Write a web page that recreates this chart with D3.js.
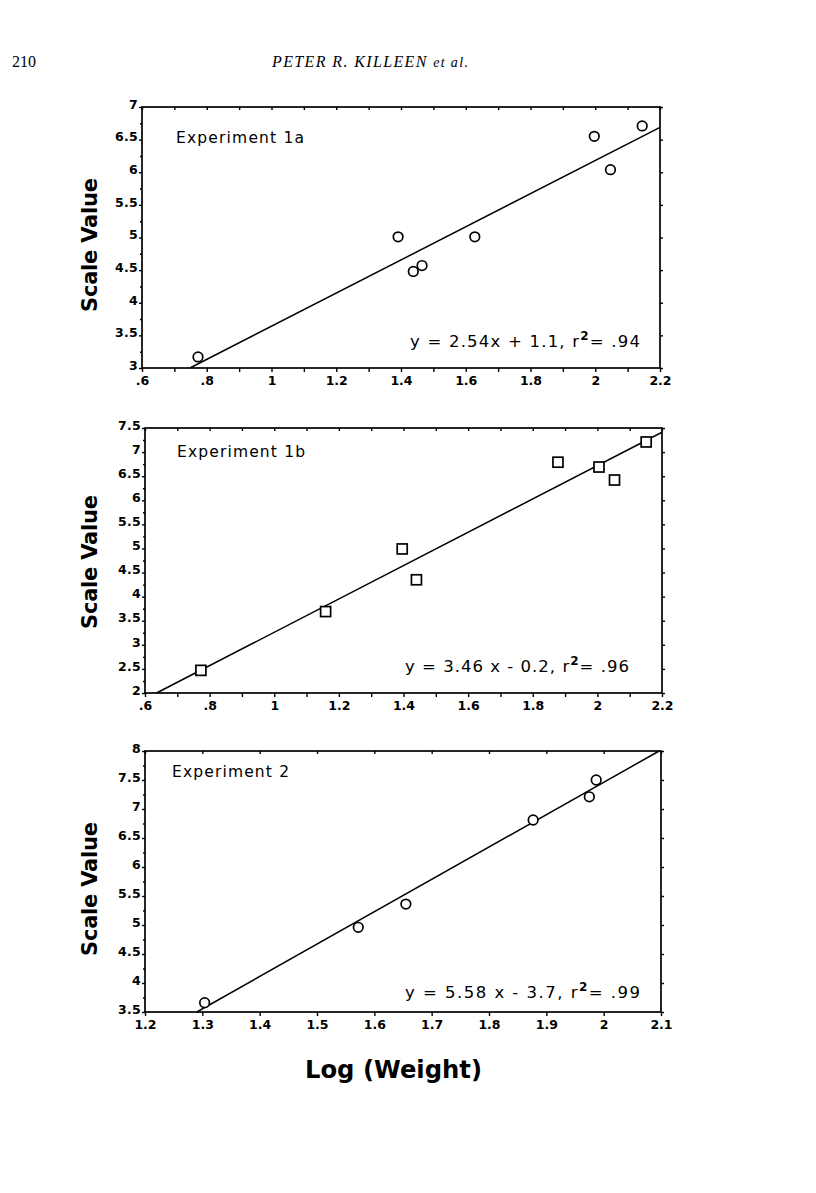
<!DOCTYPE html>
<html><head><meta charset="utf-8">
<script src="https://cdn.jsdelivr.net/npm/d3@7"></script>
<style>body{margin:0;background:#fff}</style>
</head><body><svg id="c" width="816" height="1193"></svg>
<script>
// ---------- data ----------
const exp1aLogWeight = [0.773, 1.391, 1.438, 1.465, 1.628, 1.997, 2.047, 2.145];
const exp1aScale     = [3.17, 5.01, 4.48, 4.57, 5.01, 6.55, 6.04, 6.71];
const exp1bLogWeight = [0.773, 1.159, 1.396, 1.440, 1.878, 2.005, 2.053, 2.151];
const exp1bScale     = [2.47, 3.69, 4.99, 4.35, 6.79, 6.69, 6.42, 7.21];
const exp2LogWeight  = [1.304, 1.572, 1.655, 1.877, 1.975, 1.987];
const exp2Scale      = [3.66, 4.96, 5.36, 6.81, 7.21, 7.50];
const fitSlopes      = [2.54, 3.46, 5.58];
const fitIntercepts  = [1.1, -0.2, -3.7];
const panelTitles    = ["Experiment 1a", "Experiment 1b", "Experiment 2"];
const eqMain         = ["y  =  2.54x + 1.1,  r", "y  = 3.46 x - 0.2,  r", "y  =  5.58 x - 3.7,  r"];
const eqR2           = ["= .94", "= .96", "= .99"];
const xTicksA        = [0.6, 0.8, 1, 1.2, 1.4, 1.6, 1.8, 2, 2.2];
const xTickLabelsA   = [".6", ".8", "1", "1.2", "1.4", "1.6", "1.8", "2", "2.2"];
const xMinorA        = [0.7, 0.9, 1.1, 1.3, 1.5, 1.7, 1.9, 2.1];
const xTicksB        = [1.2, 1.3, 1.4, 1.5, 1.6, 1.7, 1.8, 1.9, 2, 2.1];
const xTickLabelsB   = ["1.2", "1.3", "1.4", "1.5", "1.6", "1.7", "1.8", "1.9", "2", "2.1"];
const yTicks1        = [3, 3.5, 4, 4.5, 5, 5.5, 6, 6.5, 7];
const yTickLabels1   = ["3", "3.5", "4", "4.5", "5", "5.5", "6", "6.5", "7"];
const yTicks2        = [2, 2.5, 3, 3.5, 4, 4.5, 5, 5.5, 6, 6.5, 7, 7.5];
const yTickLabels2   = ["2", "2.5", "3", "3.5", "4", "4.5", "5", "5.5", "6", "6.5", "7", "7.5"];
const yTicks3        = [3.5, 4, 4.5, 5, 5.5, 6, 6.5, 7, 7.5, 8];
const yTickLabels3   = ["3.5", "4", "4.5", "5", "5.5", "6", "6.5", "7", "7.5", "8"];
const xAxisTitle     = "Log (Weight)";
const yAxisTitle     = "Scale Value";

// ---------- layout ----------
const svg = d3.select("#c");
const FONT = "'DejaVu Sans', Verdana, sans-serif";

svg.append("text").attr("x", 12).attr("y", 67)
  .attr("font-family", "'Liberation Serif', 'Times New Roman', serif").attr("font-size", 16)
  .text("210");
const hdr = svg.append("text").attr("x", 272).attr("y", 67)
  .attr("font-family", "'Liberation Serif', 'Times New Roman', serif").attr("font-size", 16)
  .attr("font-style", "italic").attr("textLength", 196).attr("lengthAdjust", "spacing");
hdr.append("tspan").text("PETER R. KILLEEN ");
hdr.append("tspan").attr("font-size", 14).text("et al.");

const panels = [
  {xs: exp1aLogWeight, ys: exp1aScale, marker: "circle", L: 142, R: 660, T: 107, B: 368,
   xDom: [0.6, 2.2], yDom: [3, 7], xt: xTicksA, xl: xTickLabelsA, xm: xMinorA,
   yt: yTicks1, yl: yTickLabels1, titleX: 176, titleY: 143, titleW: 128,
   eqX: 410, eqY: 347, eqW: 230, yTitleC: 245},
  {xs: exp1bLogWeight, ys: exp1bScale, marker: "square", L: 145, R: 662, T: 428, B: 693,
   xDom: [0.6, 2.2], yDom: [2, 7.5], xt: xTicksA, xl: xTickLabelsA, xm: xMinorA,
   yt: yTicks2, yl: yTickLabels2, titleX: 177, titleY: 457, titleW: 128,
   eqX: 405, eqY: 672, eqW: 224, yTitleC: 562},
  {xs: exp2LogWeight, ys: exp2Scale, marker: "circle", L: 145, R: 661, T: 751, B: 1012,
   xDom: [1.2, 2.1], yDom: [3.5, 8], xt: xTicksB, xl: xTickLabelsB, xm: [],
   yt: yTicks3, yl: yTickLabels3, titleX: 172, titleY: 777, titleW: 117,
   eqX: 405, eqY: 998, eqW: 235, yTitleC: 889}
];

panels.forEach((p, i) => {
  const x = d3.scaleLinear().domain(p.xDom).range([p.L, p.R]);
  const y = d3.scaleLinear().domain(p.yDom).range([p.B, p.T]);
  const g = svg.append("g");

  // y minor ticks (quarters)
  const yMinor = d3.range(p.yt.length - 1).map(k => (p.yt[k] + p.yt[k + 1]) / 2);

  // bottom axis
  const bAx = g.append("g").attr("transform", `translate(0,${p.B})`)
    .call(d3.axisBottom(x).tickValues(p.xt).tickFormat((d, k) => p.xl[k]).tickSize(4).tickPadding(1));
  g.append("g").attr("transform", `translate(0,${p.B})`)
    .call(d3.axisBottom(x).tickValues(p.xm).tickFormat("").tickSize(4));
  // top axis inner ticks
  g.append("g").attr("transform", `translate(0,${p.T})`)
    .call(d3.axisBottom(x).tickValues(p.xt.concat(p.xm)).tickFormat("").tickSize(3));
  // left axis
  const lAx = g.append("g").attr("transform", `translate(${p.L},0)`)
    .call(d3.axisLeft(y).tickValues(p.yt).tickFormat((d, k) => p.yl[k]).tickSize(3).tickPadding(1));
  g.append("g").attr("transform", `translate(${p.L},0)`)
    .call(d3.axisLeft(y).tickValues(yMinor).tickFormat("").tickSize(2));
  // right axis
  g.append("g").attr("transform", `translate(${p.R},0)`)
    .call(d3.axisRight(y).tickValues(p.yt).tickFormat("").tickSize(3));

  g.selectAll(".domain").remove();
  g.selectAll(".tick line").attr("stroke", "#000").attr("stroke-width", 1.4);
  g.selectAll("text").attr("font-family", FONT).attr("font-weight", "bold")
    .attr("font-size", 12.5).attr("fill", "#000");
  bAx.selectAll("text").attr("dy", "0.95em");
  lAx.selectAll("text").attr("dy", "0.1em").attr("letter-spacing", "0.3");

  // frame
  g.append("rect").attr("x", p.L).attr("y", p.T).attr("width", p.R - p.L).attr("height", p.B - p.T)
    .attr("fill", "none").attr("stroke", "#000").attr("stroke-width", 1.7);

  // regression line, clipped to the plotting window
  const m = fitSlopes[i], b = fitIntercepts[i];
  const x0 = Math.max(p.xDom[0], (p.yDom[0] - b) / m);
  const x1 = Math.min(p.xDom[1], (p.yDom[1] - b) / m);
  g.append("path")
    .datum([x0, x1])
    .attr("d", d3.line().x(d => x(d)).y(d => y(m * d + b)))
    .attr("stroke", "#000").attr("stroke-width", 1.5).attr("fill", "none");

  // points
  const pts = p.xs.map((v, k) => [v, p.ys[k]]);
  if (p.marker === "circle") {
    g.selectAll("circle.pt").data(pts).join("circle").attr("class", "pt")
      .attr("cx", d => x(d[0])).attr("cy", d => y(d[1])).attr("r", 4.8)
      .attr("fill", "#fff").attr("stroke", "#000").attr("stroke-width", 1.7);
  } else {
    g.selectAll("rect.pt").data(pts).join("rect").attr("class", "pt")
      .attr("x", d => x(d[0]) - 5).attr("y", d => y(d[1]) - 5).attr("width", 10).attr("height", 10)
      .attr("fill", "#fff").attr("stroke", "#000").attr("stroke-width", 1.7);
  }

  // panel title
  g.append("text").attr("x", p.titleX).attr("y", p.titleY)
    .attr("font-family", FONT).attr("font-size", 15.5)
    .attr("textLength", p.titleW).attr("lengthAdjust", "spacing").text(panelTitles[i]);

  // equation
  const eq = g.append("text").attr("x", p.eqX).attr("y", p.eqY)
    .attr("font-family", FONT).attr("font-size", 16.5)
    .attr("textLength", p.eqW).attr("lengthAdjust", "spacing");
  eq.append("tspan").text(eqMain[i]);
  eq.append("tspan").attr("dy", -7).attr("font-size", 12).attr("font-weight", "bold").text("2");
  eq.append("tspan").attr("dy", 7).text(eqR2[i]);

  // y axis title
  g.append("text").attr("transform", `translate(97,${p.yTitleC}) rotate(-90)`)
    .attr("text-anchor", "middle").attr("font-family", FONT).attr("font-weight", "bold")
    .attr("font-size", 21).attr("textLength", 134).attr("lengthAdjust", "spacing").text(yAxisTitle);
});

svg.append("text").attr("x", 305).attr("y", 1078)
  .attr("font-family", FONT).attr("font-weight", "bold").attr("font-size", 25)
  .attr("textLength", 177).attr("lengthAdjust", "spacingAndGlyphs").text(xAxisTitle);
</script></body></html>
